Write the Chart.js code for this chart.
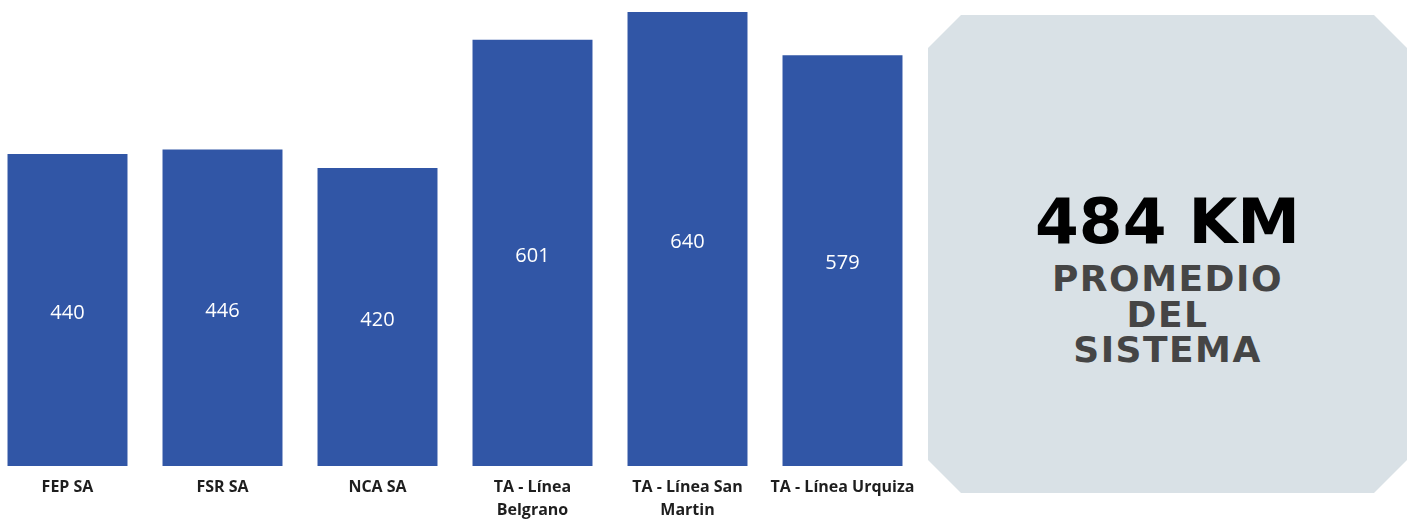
<!DOCTYPE html>
<html lang="es">
<head>
<meta charset="utf-8">
<title>Promedio del sistema</title>
<script src="https://cdn.jsdelivr.net/npm/chart.js@4/dist/chart.umd.min.js"></script>
<style>
    html, body { margin: 0; padding: 0; background: #ffffff; overflow: hidden; }
    body { width: 1411px; height: 520px; position: relative; }
    #chartBox { position: absolute; left: -10px; top: 0; width: 930px; height: 524px; }
    #panel {
        position: absolute; left: 928px; top: 15px; width: 479px; height: 478px;
        background: #d9e1e6;
        clip-path: polygon(33px 0, calc(100% - 33px) 0, 100% 33px, 100% calc(100% - 33px),
            calc(100% - 33px) 100%, 33px 100%, 0 calc(100% - 33px), 0 33px);
        font-family: "DejaVu Sans", sans-serif; font-weight: bold; text-align: center;
    }
    #panel .big { position: absolute; left: 0; right: 0; top: 175px; font-size: 63px; line-height: 63px; color: #000; }
    #panel .sub { position: absolute; left: 0; right: 0; top: 246px; font-size: 36px; line-height: 35.5px; color: #454545; letter-spacing: 1.5px; }
</style>
</head>
<body>
<div id="chartBox"><canvas id="kmChart"></canvas></div>
<div id="panel">
    <div class="big">484 KM</div>
    <div class="sub">PROMEDIO<br>DEL<br>SISTEMA</div>
</div>
<script>
    const categories = ['FEP SA', 'FSR SA', 'NCA SA', ['TA - Línea', 'Belgrano'], ['TA - Línea San', 'Martin'], 'TA - Línea Urquiza'];
    const kmValues = [440, 446, 420, 601, 640, 579];

    // white value label in the middle of every bar
    const barValues = {
        id: 'barValues',
        afterDatasetsDraw(chart) {
            const ctx = chart.ctx;
            const meta = chart.getDatasetMeta(0);
            ctx.save();
            ctx.fillStyle = '#ffffff';
            ctx.font = '20px "Open Sans", sans-serif';
            ctx.textAlign = 'center';
            ctx.textBaseline = 'middle';
            meta.data.forEach((bar, i) => {
                const mid = (bar.y + bar.base) / 2 + 3;
                ctx.fillText(String(chart.data.datasets[0].data[i]), bar.x, mid);
            });
            ctx.restore();
        }
    };

    new Chart(document.getElementById('kmChart'), {
        type: 'bar',
        data: {
            labels: categories,
            datasets: [{
                data: kmValues,
                backgroundColor: '#3156a6',
                categoryPercentage: 1,
                barPercentage: 0.774
            }]
        },
        options: {
            responsive: true,
            maintainAspectRatio: false,
            animation: false,
            layout: { padding: { top: 12, left: 0, right: 0, bottom: 0 } },
            plugins: { legend: { display: false }, tooltip: { enabled: false } },
            scales: {
                x: {
                    grid: { display: false },
                    border: { display: false },
                    ticks: {
                        color: '#1e1e1e',
                        font: { family: '"Open Sans", sans-serif', size: 16, weight: 'bold', lineHeight: '23px' },
                        padding: 2,
                        maxRotation: 0,
                        autoSkip: false
                    }
                },
                y: { display: false, min: 0, max: 640 }
            }
        },
        plugins: [barValues]
    });
</script>
</body>
</html>
